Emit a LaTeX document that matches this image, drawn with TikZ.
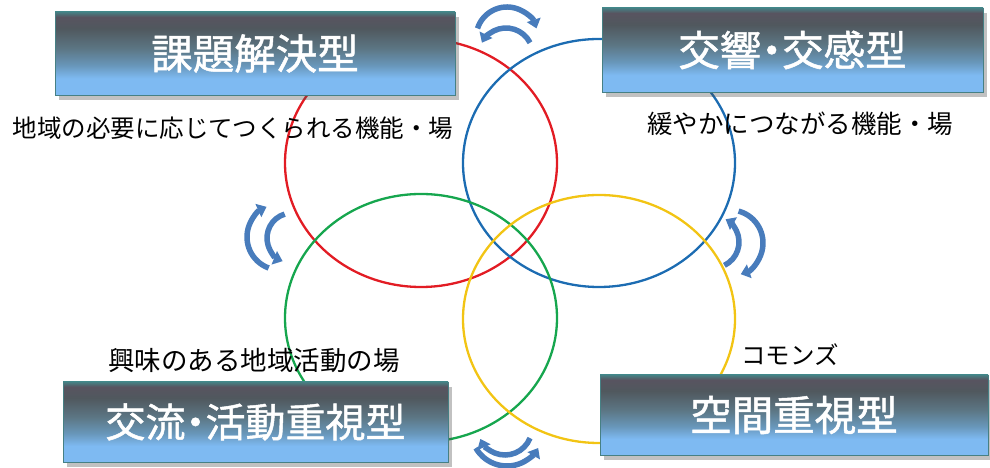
\documentclass[tikz,border=0pt]{standalone}
\usepackage{fontspec}
\newfontfamily\jp{Noto Sans CJK JP}
\newfontfamily\jpb{Noto Sans CJK JP}[FakeBold=1.2,RawFeature=+palt]
\usetikzlibrary{arrows.meta,shadows}
\definecolor{cred}{RGB}{226,28,36}
\definecolor{cblue}{RGB}{28,108,178}
\definecolor{cgreen}{RGB}{22,166,78}
\definecolor{cyellow}{RGB}{242,196,20}
\definecolor{arrc}{RGB}{72,124,188}
\definecolor{bla}{RGB}{126,186,242}
\definecolor{blb}{RGB}{104,150,185}
\definecolor{blc}{RGB}{92,118,132}
\definecolor{bld}{RGB}{80,88,94}
\definecolor{ble}{RGB}{88,84,96}
\definecolor{blf}{RGB}{70,128,132}
\pgfdeclareverticalshading{boxshade}{100bp}{color(0bp)=(bla); color(25bp)=(bla); color(35bp)=(bla); color(43bp)=(blb); color(53bp)=(blc); color(65bp)=(bld); color(72bp)=(ble); color(75bp)=(blf); color(100bp)=(blf)}
\tikzset{
  boxst/.style={shading=boxshade, draw=blf, line width=0.6pt, inner sep=0pt,
    drop shadow={shadow xshift=4pt, shadow yshift=-5pt, opacity=0.35, fill=black!70},
    text=white, font=\jpb\fontsize{41.5}{42}\selectfont},
  lbl/.style={inner sep=0pt, text=black, font=\jp\fontsize{24.5}{26}\selectfont},
  ring/.style={line width=2.3pt},
  carrow/.style={draw=arrc, line width=5.5pt, -{Triangle[width=14pt,length=9pt]}}
}
\begin{document}
\begin{tikzpicture}[x=1pt,y=1pt]
\useasboundingbox (0,0) rectangle (990,468);
% rings
\draw[ring,cred] (421,305) ellipse [x radius=136, y radius=124];
\draw[ring,cblue] (599,305) ellipse [x radius=136, y radius=124];
\draw[ring,cgreen] (421,150) ellipse [x radius=136, y radius=124];
\draw[ring,cyellow] (599,149) ellipse [x radius=136, y radius=124];
% boxes
\node[boxst, minimum width=400pt, minimum height=83pt] (tl) at (255,414.5) {課題解決型};
\node[boxst, minimum width=381pt, minimum height=84pt] (tr) at (792.5,418) {交響・交感型};
\node[boxst, minimum width=385pt, minimum height=80pt, font=\jpb\fontsize{40}{40}\selectfont] (bl) at (255.5,46) {交流・活動重視型};
\node[boxst, minimum width=388pt, minimum height=80pt] (br) at (794,53) {空間重視型};
% labels
\node[lbl] (l1) at (233,340) {地域の必要に応じてつくられる機能・場};
\node[lbl, font=\jp\fontsize{25.5}{27}\selectfont] (l2) at (800,344) {緩やかにつながる機能・場};
\node[lbl, font=\jp\fontsize{26.5}{28}\selectfont] (l3) at (254,108) {興味のある地域活動の場};
\node[lbl] (l4) at (790,113) {コモンズ};
% cycle arrows
\coordinate (ta) at (507,430);
\coordinate (tb) at (506,413);
\draw[carrow] (ta) ++(162:31) arc[start angle=162, end angle=18, radius=31];
\draw[carrow] (tb) ++(27:27) arc[start angle=27, end angle=153, radius=27];
\coordinate (la) at (280,231);
\coordinate (lb) at (292,230);
\draw[carrow] (la) ++(250:33) arc[start angle=250, end angle=114, radius=33];
\draw[carrow] (lb) ++(107:25) arc[start angle=107, end angle=248, radius=25];
\coordinate (ra) at (713,226);
\coordinate (rb) at (730,225);
\draw[carrow] (ra) ++(-64:26) arc[start angle=-64, end angle=61, radius=26];
\draw[carrow] (rb) ++(75:33) arc[start angle=75, end angle=-71, radius=33];
\coordinate (ba) at (505,40);
\coordinate (bb) at (507,38);
\draw[carrow] (ba) ++(-22:27) arc[start angle=-22, end angle=-156, radius=27];
\draw[carrow] (bb) ++(-150:36) arc[start angle=-150, end angle=-30, radius=36];
\end{tikzpicture}
\end{document}
